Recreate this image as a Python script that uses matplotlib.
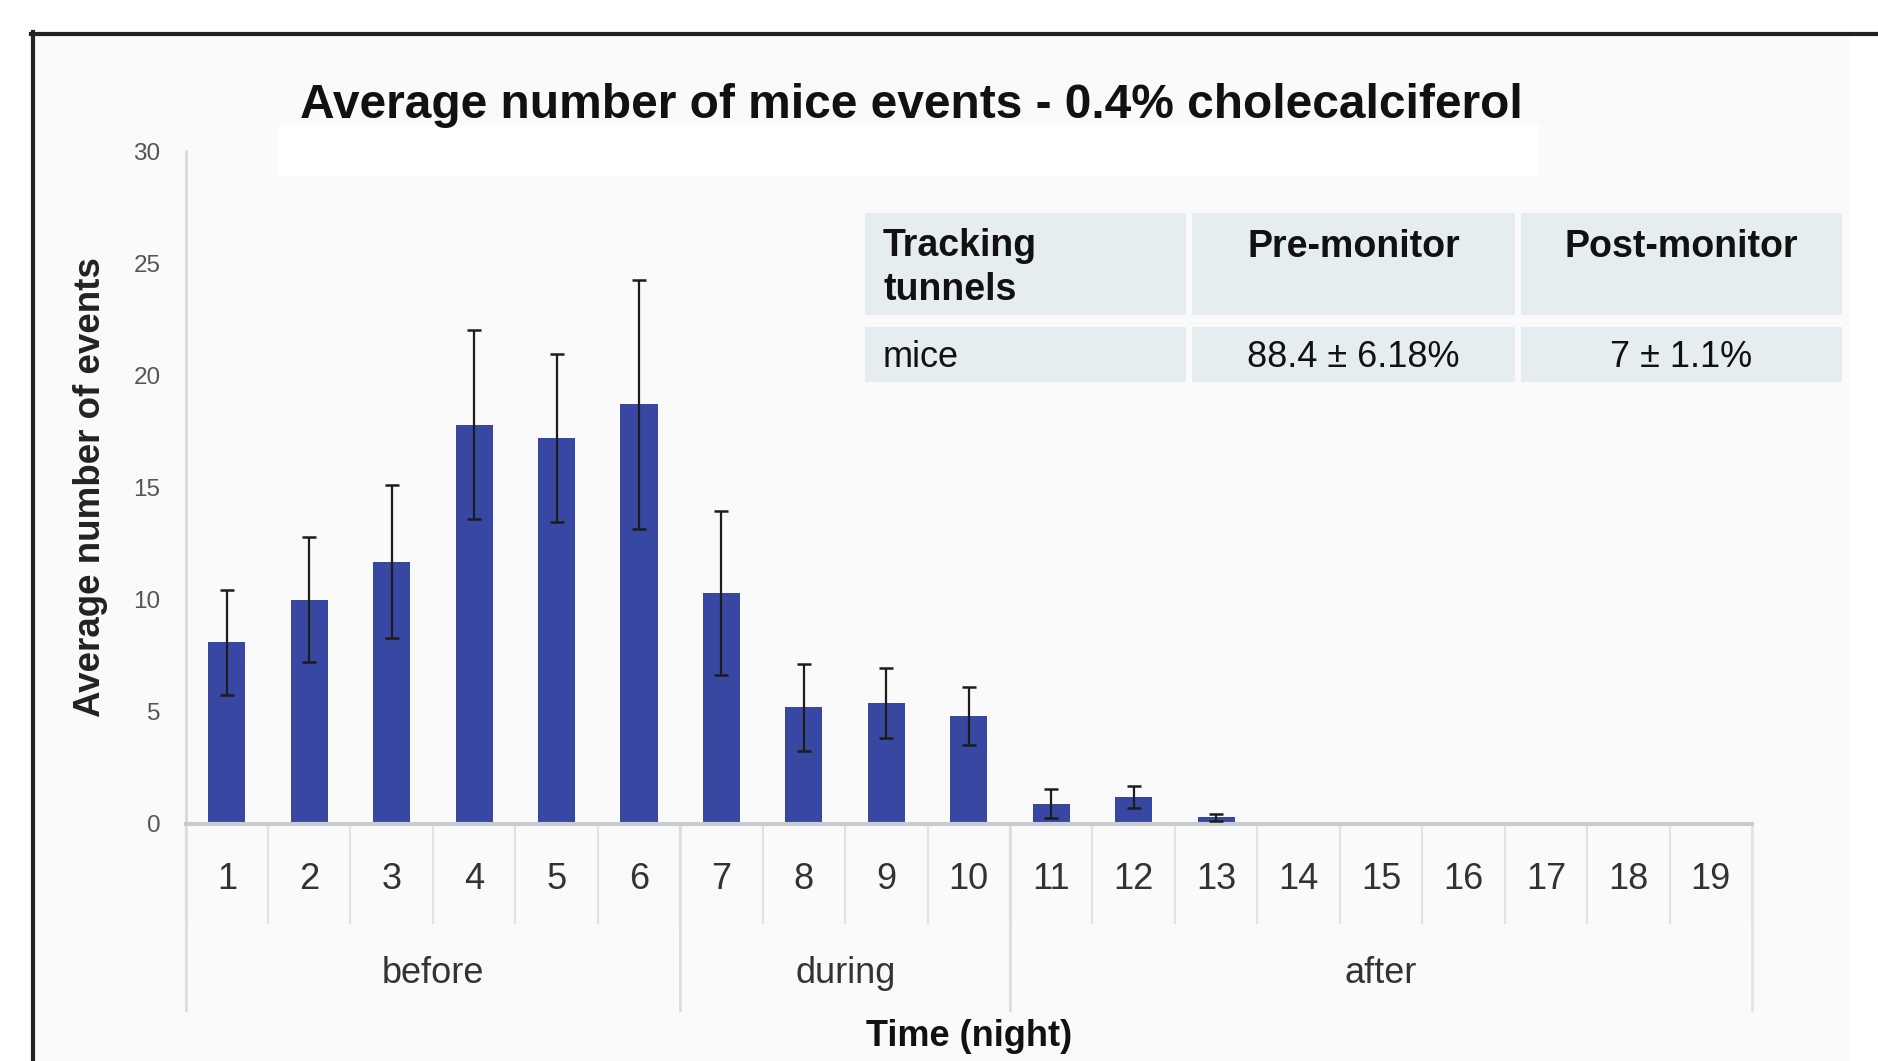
import numpy as np
import matplotlib
matplotlib.use('Agg')
import matplotlib.pyplot as plt
from matplotlib.patches import Rectangle
from matplotlib.lines import Line2D
from matplotlib.transforms import blended_transform_factory

# valores
nights = list(range(1, 20))
mean_events = [8.1, 10.0, 11.7, 17.8, 17.2, 18.7, 10.3, 5.2, 5.4, 4.8,
               0.9, 1.2, 0.3, 0, 0, 0, 0, 0, 0]
err_events = [2.35, 2.8, 3.4, 4.2, 3.75, 5.55, 3.65, 1.95, 1.55, 1.3,
              0.65, 0.5, 0.15, 0, 0, 0, 0, 0, 0]
periods = ['before', 'during', 'after']
period_nights = [6, 4, 9]
yticks = [0, 5, 10, 15, 20, 25, 30]
table_header = ['Tracking\ntunnels', 'Pre-monitor', 'Post-monitor']
table_row = ['mice', '88.4 ± 6.18%', '7 ± 1.1%']

W, H = 1878, 1061
plt.rcParams['font.family'] = ['Liberation Sans', 'DejaVu Sans']


def fx(x):
    return x / W


def fy(y):
    return 1 - y / H


fig = plt.figure(figsize=(W / 100, H / 100), dpi=100, facecolor='white')

# fundo e moldura
fig.patches.append(Rectangle((fx(33), fy(H)), fx(1850) - fx(33), fy(34) - fy(H),
                             transform=fig.transFigure, facecolor='#fafafa',
                             edgecolor='none', zorder=-5))
fig.patches.append(Rectangle((fx(278), fy(176)), fx(1539) - fx(278), fy(125) - fy(176),
                             transform=fig.transFigure, facecolor='white',
                             edgecolor='none', zorder=-4))
fig.lines.append(Line2D([fx(31), 1], [fy(34), fy(34)], transform=fig.transFigure,
                        color='#222222', lw=3))
fig.lines.append(Line2D([fx(33), fx(33)], [fy(32), 0], transform=fig.transFigure,
                        color='#222222', lw=3))

ax = fig.add_axes([fx(185.6), fy(824), fx(1752) - fx(185.6), fy(151) - fy(824)])
ax.set_facecolor('none')

x = np.array(nights)
y = np.array(mean_events)
e = np.array(err_events)
ax.bar(x, y, width=0.45, color='#3848a2', zorder=2)
m = e > 0
ax.errorbar(x[m], y[m], yerr=e[m], fmt='none', ecolor='#1c1c1c', elinewidth=1.6,
            capsize=5, capthick=1.8, zorder=3)

ax.set_xlim(0.5, len(nights) + 0.5)
ax.set_ylim(0, 30)
ax.set_yticks(yticks)
ax.tick_params(axis='y', length=0, pad=18, labelsize=17.5, labelcolor='#555555')
ax.set_xticks([])
for s in ['top', 'right']:
    ax.spines[s].set_visible(False)
ax.spines['left'].set_color('#d8d8d8')
ax.spines['left'].set_linewidth(2)
ax.spines['bottom'].set_color('#c8ccd0')
ax.spines['bottom'].set_linewidth(3)

# rotulos das noites e dos periodos
tr = blended_transform_factory(ax.transData, ax.transAxes)
px_ax = 824 - 151
for n in nights:
    ax.text(n, -(889 - 824) / px_ax, str(n), transform=tr, ha='center', va='baseline',
            fontsize=26, color='#333333')
for b in range(len(nights) + 1):
    ax.plot([b + 0.5, b + 0.5], [0, -(923 - 824) / px_ax], transform=tr,
            color='#e2e2e2', lw=1.5, clip_on=False)
edges = np.concatenate([[0], np.cumsum(period_nights)])
for i, p in enumerate(periods):
    ax.plot([edges[i] + 0.5, edges[i] + 0.5], [0, -(1010 - 824) / px_ax], transform=tr,
            color='#dcdcdc', lw=2, clip_on=False)
    ax.text((edges[i] + edges[i + 1]) / 2 + 0.5, -(983 - 824) / px_ax, p, transform=tr,
            ha='center', va='baseline', fontsize=26, color='#333333')
ax.plot([edges[-1] + 0.5, edges[-1] + 0.5], [0, -(1010 - 824) / px_ax], transform=tr,
        color='#e0e4ea', lw=2, clip_on=False)

fig.text(fx(911), fy(118), 'Average number of mice events - 0.4% cholecalciferol',
         ha='center', va='baseline', fontsize=34.5, fontweight='bold', color='#111111')
fig.text(fx(91), fy(487), 'Average number of events', rotation=90, ha='center',
         va='center', fontsize=26.5, fontweight='bold', color='#222222')
fig.text(fx(968.8), fy(1046), 'Time (night)', ha='center', va='baseline',
         fontsize=26, fontweight='bold', color='#111111')

# tabela
col_x = [(865, 1186), (1192, 1515), (1521, 1842)]
row_y = [(213, 315), (327, 382)]
for (y0, y1) in row_y:
    for (x0, x1) in col_x:
        fig.patches.append(Rectangle((fx(x0), fy(y1)), fx(x1) - fx(x0), fy(y0) - fy(y1),
                                     transform=fig.transFigure, facecolor='#e6edf0',
                                     edgecolor='none', zorder=1))
for i, t in enumerate(table_header):
    if i == 0:
        fig.text(fx(883), fy(228), t, ha='left', va='top', fontsize=27,
                 fontweight='bold', linespacing=1.3, color='#111111')
    else:
        fig.text(fx(sum(col_x[i]) / 2), fy(257), t, ha='center', va='baseline',
                 fontsize=27, fontweight='bold', color='#111111')
for i, t in enumerate(table_row):
    if i == 0:
        fig.text(fx(883), fy(367), t, ha='left', va='baseline', fontsize=26,
                 color='#111111')
    else:
        fig.text(fx(sum(col_x[i]) / 2), fy(367), t, ha='center', va='baseline',
                 fontsize=26, color='#111111')

fig.savefig('out.png', dpi=100, facecolor='white')
